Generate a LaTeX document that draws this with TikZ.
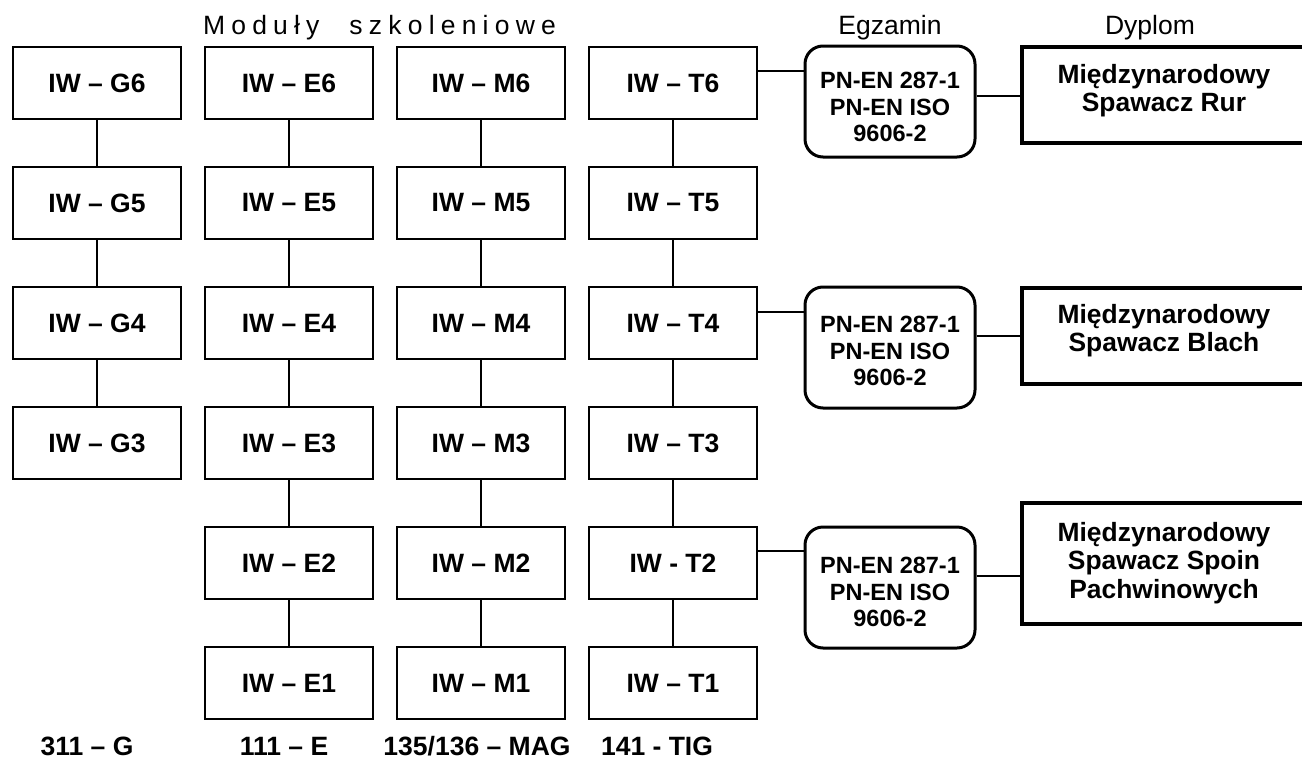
\documentclass[tikz,border=0pt]{standalone}
\usepackage{fontspec}
\setmainfont{Liberation Sans}
\newcommand\ltrsp{\hspace{6.2pt}}
\begin{document}
\begin{tikzpicture}[x=1pt,y=-1pt,
  modbox/.style={draw, line width=1.6pt, minimum width=168pt, minimum height=72pt, inner sep=0pt,
    font=\fontsize{26.5}{28}\selectfont\bfseries},
  exambox/.style={draw, line width=3pt, rounded corners=18pt, minimum width=170pt, inner sep=0pt},
  examtext/.style={align=center, inner sep=0pt, font=\fontsize{23.5}{26.8}\selectfont\bfseries},
  diplbox/.style={draw, line width=3.5pt, minimum width=300pt, inner sep=0pt},
  dipltext/.style={align=center, inner sep=0pt, font=\fontsize{26.4}{28.3}\selectfont\bfseries},
  head/.style={anchor=base, inner sep=0pt, font=\fontsize{26.5}{28}\selectfont},
  foot/.style={anchor=base, inner sep=0pt, font=\fontsize{26.5}{28}\selectfont\bfseries},
  conn/.style={line width=1.3pt}]
\useasboundingbox (0,0) rectangle (1302,758);

% headers
\node[head] (hmod) at (379.5,34) {M\ltrsp o\ltrsp d\ltrsp u\ltrsp ł\ltrsp y\hspace{30pt}s\ltrsp z\ltrsp k\ltrsp o\ltrsp l\ltrsp e\ltrsp n\ltrsp i\ltrsp o\ltrsp w\ltrsp e};
\node[head] (hegz) at (890,34) {Egzamin};
\node[head] (hdyp) at (1150,34) {Dyplom};

% G column
\node[modbox] (G6) at (97,83) {IW – G6};
\node[modbox] (G5) at (97,203) {IW – G5};
\node[modbox] (G4) at (97,323) {IW – G4};
\node[modbox] (G3) at (97,443) {IW – G3};
% E column
\node[modbox] (E6) at (289,83) {IW – E6};
\node[modbox] (E5) at (289,203) {IW – E5};
\node[modbox] (E4) at (289,323) {IW – E4};
\node[modbox] (E3) at (289,443) {IW – E3};
\node[modbox] (E2) at (289,563) {IW – E2};
\node[modbox] (E1) at (289,683) {IW – E1};
% M column
\node[modbox] (M6) at (481,83) {IW – M6};
\node[modbox] (M5) at (481,203) {IW – M5};
\node[modbox] (M4) at (481,323) {IW – M4};
\node[modbox] (M3) at (481,443) {IW – M3};
\node[modbox] (M2) at (481,563) {IW – M2};
\node[modbox] (M1) at (481,683) {IW – M1};
% T column
\node[modbox] (T6) at (673,83) {IW – T6};
\node[modbox] (T5) at (673,203) {IW – T5};
\node[modbox] (T4) at (673,323) {IW – T4};
\node[modbox] (T3) at (673,443) {IW – T3};
\node[modbox] (T2) at (673,563) {IW - T2};
\node[modbox] (T1) at (673,683) {IW – T1};

% vertical connectors
\foreach \c in {G}{
  \draw[conn] (\c6) -- (\c5); \draw[conn] (\c5) -- (\c4); \draw[conn] (\c4) -- (\c3);
}
\foreach \c in {E,M,T}{
  \draw[conn] (\c6) -- (\c5); \draw[conn] (\c5) -- (\c4); \draw[conn] (\c4) -- (\c3);
  \draw[conn] (\c3) -- (\c2); \draw[conn] (\c2) -- (\c1);
}

% exam boxes
\node[exambox, minimum height=111pt] (ex1) at (890,101.5) {};
\node[examtext] (ex1t) at (890,107) {PN-EN 287-1\\PN-EN ISO\\9606-2};
\node[exambox, minimum height=121pt] (ex2) at (890,347.5) {};
\node[examtext] (ex2t) at (890,351) {PN-EN 287-1\\PN-EN ISO\\9606-2};
\node[exambox, minimum height=121pt] (ex3) at (890,587.5) {};
\node[examtext] (ex3t) at (890,592) {PN-EN 287-1\\PN-EN ISO\\9606-2};

% diploma boxes
\node[diplbox, minimum height=96pt, anchor=west] (d1) at (1020,95) {};
\node[dipltext] (d1t) at (1164,91) {Międzynarodowy\\Spawacz Rur};
\node[diplbox, minimum height=96pt, anchor=west] (d2) at (1020,336) {};
\node[dipltext] (d2t) at (1164,331) {Międzynarodowy\\Spawacz Blach};
\node[diplbox, minimum height=121pt, anchor=west] (d3) at (1020,563.5) {};
\node[dipltext] (d3t) at (1164,563) {Międzynarodowy\\Spawacz Spoin\\Pachwinowych};

% horizontal connectors
\coordinate (y1) at (0,71);
\coordinate (y2) at (0,96);
\coordinate (y3) at (0,312);
\coordinate (y4) at (0,336);
\coordinate (y5) at (0,551);
\coordinate (y6) at (0,576);
\draw[conn] (T6.east |- y1) -- (ex1.west |- y1);
\draw[conn] (ex1.east |- y2) -- (d1.west |- y2);
\draw[conn] (T4.east |- y3) -- (ex2.west |- y3);
\draw[conn] (ex2.east |- y4) -- (d2.west |- y4);
\draw[conn] (T2.east |- y5) -- (ex3.west |- y5);
\draw[conn] (ex3.east |- y6) -- (d3.west |- y6);

% footer labels
\node[foot] (fG) at (87,755) {311 – G};
\node[foot] (fE) at (284,755) {111 – E};
\node[foot] (fM) at (477,755) {135/136 – MAG};
\node[foot] (fT) at (657,755) {141 - TIG};
\end{tikzpicture}
\end{document}
